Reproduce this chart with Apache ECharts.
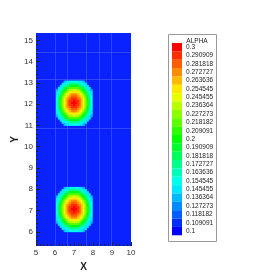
<!DOCTYPE html>
<html><head><meta charset="utf-8">
<script src="https://cdn.jsdelivr.net/npm/echarts@6/dist/echarts.min.js"></script>
<style>html,body{margin:0;padding:0;background:#fff}#c{width:277px;height:277px}</style>
</head><body><div id="c"></div>
<script>
// ---- data ----
const xTicks = [5, 6, 7, 8, 9, 10];
const yTicks = [6, 7, 8, 9, 10, 11, 12, 13, 14, 15];
const levelLabels = ['0.1','0.109091','0.118182','0.127273','0.136364','0.145455','0.154545','0.163636','0.172727','0.181818','0.190909','0.2','0.209091','0.218182','0.227273','0.236364','0.245455','0.254545','0.263636','0.272727','0.281818','0.290909','0.3'];
const blobCenters = [[7.0, 12.06], [7.0, 7.06]];
const cellOffsetsX = [-0.9,-0.8,-0.7,-0.6,-0.5,-0.4,-0.3,-0.2,-0.1,0,0.1,0.2,0.3,0.4,0.5,0.6,0.7,0.8,0.9];
const cellOffsetsY = [1.0,0.9,0.8,0.7,0.6,0.5,0.4,0.3,0.2,0.1,0,-0.1,-0.2,-0.3,-0.4,-0.5,-0.6,-0.7,-0.8,-0.9,-1.0];
const blobGrid = [
 [null,null,null,null,.139,.143,.147,.152,.155,.156,.155,.152,.147,.143,.139,null,null,null,null],
 [null,null,null,.141,.147,.156,.164,.170,.175,.176,.175,.170,.164,.156,.147,.141,null,null,null],
 [null,null,.142,.150,.161,.174,.184,.192,.197,.199,.197,.192,.184,.174,.161,.150,.142,null,null],
 [null,.141,.149,.163,.179,.193,.205,.214,.220,.221,.220,.214,.205,.193,.179,.163,.149,.141,null],
 [.138,.146,.161,.179,.196,.212,.225,.234,.239,.241,.239,.234,.225,.212,.196,.179,.161,.146,.138],
 [.142,.155,.173,.193,.213,.229,.241,.250,.256,.258,.256,.250,.241,.229,.213,.193,.173,.155,.142],
 [.146,.163,.184,.206,.226,.242,.255,.264,.270,.271,.270,.264,.255,.242,.226,.206,.184,.163,.146],
 [.151,.171,.194,.217,.237,.253,.266,.275,.281,.282,.281,.275,.266,.253,.237,.217,.194,.171,.151],
 [.155,.177,.201,.224,.244,.260,.273,.283,.288,.291,.288,.283,.273,.260,.244,.224,.201,.177,.155],
 [.158,.181,.206,.229,.249,.265,.278,.287,.294,.296,.294,.287,.278,.265,.249,.229,.206,.181,.158],
 [.159,.182,.207,.231,.250,.266,.280,.289,.296,.298,.296,.289,.280,.266,.250,.231,.207,.182,.159],
 [.158,.181,.206,.229,.249,.265,.278,.287,.294,.296,.294,.287,.278,.265,.249,.229,.206,.181,.158],
 [.155,.177,.201,.224,.244,.260,.273,.283,.288,.291,.288,.283,.273,.260,.244,.224,.201,.177,.155],
 [.151,.171,.194,.217,.237,.253,.266,.275,.281,.282,.281,.275,.266,.253,.237,.217,.194,.171,.151],
 [.146,.163,.184,.206,.226,.242,.255,.264,.270,.271,.270,.264,.255,.242,.226,.206,.184,.163,.146],
 [.142,.155,.173,.193,.213,.229,.241,.250,.256,.258,.256,.250,.241,.229,.213,.193,.173,.155,.142],
 [.138,.146,.161,.179,.196,.212,.225,.234,.239,.241,.239,.234,.225,.212,.196,.179,.161,.146,.138],
 [null,.141,.149,.163,.179,.193,.205,.214,.220,.221,.220,.214,.205,.193,.179,.163,.149,.141,null],
 [null,null,.142,.150,.161,.174,.184,.192,.197,.199,.197,.192,.184,.174,.161,.150,.142,null,null],
 [null,null,null,.141,.147,.156,.164,.170,.175,.176,.175,.170,.164,.156,.147,.141,null,null,null],
 [null,null,null,null,.139,.143,.147,.152,.155,.156,.155,.152,.147,.143,.139,null,null,null,null]
];
const meshX = [6.0, 6.65, 7.65, 8.3, 8.95];
const meshY = [14.45, 13.2, 10.9];

// ---- styling helpers ----
const FONT = 'Liberation Sans, Arial, sans-serif';
const Y_MIN = 5.33, Y_MAX = 15.35;
const CELL = 0.1;
const rampStops = [[0.1,[0,0,255]],[0.15,[0,255,255]],[0.2,[0,255,0]],[0.25,[255,255,0]],[0.3,[255,0,0]]];
function rampColor(v){
  if (v <= rampStops[0][0]) return 'rgb(' + rampStops[0][1].join(',') + ')';
  for (let i = 1; i < rampStops.length; i++){
    const [v1, c1] = rampStops[i], [v0, c0] = rampStops[i-1];
    if (v <= v1 + 1e-9){
      const t = (v - v0) / (v1 - v0);
      return 'rgb(' + c0.map((c, k) => Math.round(c + (c1[k] - c) * t)).join(',') + ')';
    }
  }
  return 'rgb(' + rampStops[rampStops.length-1][1].join(',') + ')';
}
const levels = levelLabels.map(Number);
const half = (levels[1] - levels[0]) / 2;
const pieces = levels.map((L, i) => ({
  min: i === 0 ? -1 : L - half,
  max: i === levels.length - 1 ? 2 : L + half,
  label: levelLabels[i],
  color: rampColor(L)
}));

const cells = [];
blobCenters.forEach(([cx, cy]) => {
  blobGrid.forEach((row, i) => {
    row.forEach((v, j) => {
      if (v !== null) cells.push([+(cx + cellOffsetsX[j]).toFixed(3), +(cy + cellOffsetsY[i]).toFixed(3), v]);
    });
  });
});

const yMinor = [];
for (let k = Math.ceil(Y_MIN * 5); k <= Math.floor(Y_MAX * 5); k++) { if (k % 5 !== 0) yMinor.push(k / 5); }

const tickColor = '#222';
const chart = echarts.init(document.getElementById('c'), null, {renderer: 'canvas'});
chart.setOption({
  animation: false,
  backgroundColor: '#fff',
  grid: {left: 36, right: 146, top: 33, bottom: 31, show: true, backgroundColor: '#0a22ff', borderWidth: 0},
  xAxis: {
    type: 'value', min: xTicks[0], max: xTicks[xTicks.length-1], interval: 1,
    axisLine: {show: false},
    axisTick: {inside: true, length: 4, lineStyle: {color: tickColor}},
    minorTick: {show: true, splitNumber: 5, length: 2, lineStyle: {color: tickColor}},
    splitLine: {show: false},
    axisLabel: {fontSize: 8, color: '#333', margin: 3, fontFamily: FONT},
    name: 'X', nameLocation: 'middle', nameGap: 8,
    nameTextStyle: {fontSize: 10, fontWeight: 'bold', color: '#222', fontFamily: FONT}
  },
  yAxis: [{
    type: 'value', min: Y_MIN, max: Y_MAX,
    axisLine: {show: false},
    axisTick: {inside: true, length: 4, customValues: yTicks, lineStyle: {color: tickColor}},
    splitLine: {show: false},
    axisLabel: {customValues: yTicks, fontSize: 8, color: '#333', margin: 3, fontFamily: FONT},
    name: 'Y', nameLocation: 'middle', nameGap: 15,
    nameTextStyle: {fontSize: 10, fontWeight: 'bold', color: '#222', fontFamily: FONT}
  }, {
    type: 'value', min: Y_MIN, max: Y_MAX, position: 'left', offset: 0,
    axisLine: {show: false},
    axisTick: {inside: true, length: 2, customValues: yMinor, lineStyle: {color: tickColor}},
    splitLine: {show: false},
    axisLabel: {show: false}
  }],
  visualMap: {
    type: 'piecewise', seriesIndex: 2, dimension: 2, pieces: pieces,
    orient: 'vertical', left: 172, top: 43, align: 'left',
    itemWidth: 10, itemHeight: 8.36, itemGap: 0, itemSymbol: 'rect',
    textGap: 4, padding: 0, selectedMode: false, hoverLink: false,
    textStyle: {fontSize: 6.5, color: '#222', fontFamily: FONT}
  },
  graphic: [
    {type: 'rect', z: -1, shape: {x: 168.5, y: 34.5, width: 48, height: 207}, style: {fill: '#fff', stroke: '#999', lineWidth: 1}},
    {type: 'text', z: 10, x: 197, y: 41, style: {text: 'ALPHA', fontSize: 6.5, fontFamily: FONT, fill: '#222', align: 'center', verticalAlign: 'middle'}}
  ],
  series: [
    {
      type: 'custom', silent: true, z: 1,
      data: meshX.map(x => [x, 10]),
      renderItem: (params, api) => {
        const p = api.coord([api.value(0), api.value(1)]);
        const cs = params.coordSys;
        return {type: 'line', shape: {x1: Math.round(p[0]) + 0.5, y1: cs.y, x2: Math.round(p[0]) + 0.5, y2: cs.y + cs.height}, style: {stroke: 'rgba(90,120,255,0.45)', lineWidth: 1}};
      }
    },
    {
      type: 'custom', silent: true, z: 1,
      data: meshY.map(y => [7.5, y]),
      renderItem: (params, api) => {
        const p = api.coord([api.value(0), api.value(1)]);
        const cs = params.coordSys;
        return {type: 'line', shape: {x1: cs.x, y1: Math.round(p[1]) + 0.5, x2: cs.x + cs.width, y2: Math.round(p[1]) + 0.5}, style: {stroke: 'rgba(90,120,255,0.45)', lineWidth: 1}};
      }
    },
    {
      type: 'custom', silent: true, z: 2,
      data: cells,
      encode: {x: 0, y: 1},
      renderItem: (params, api) => {
        const x = api.value(0), y = api.value(1);
        const p0 = api.coord([x - CELL / 2, y + CELL / 2]);
        const p1 = api.coord([x + CELL / 2, y - CELL / 2]);
        return {type: 'rect', shape: {x: p0[0], y: p0[1], width: p1[0] - p0[0] + 0.6, height: p1[1] - p0[1] + 0.6}, style: {fill: api.visual('color')}};
      }
    }
  ]
});
</script></body></html>
